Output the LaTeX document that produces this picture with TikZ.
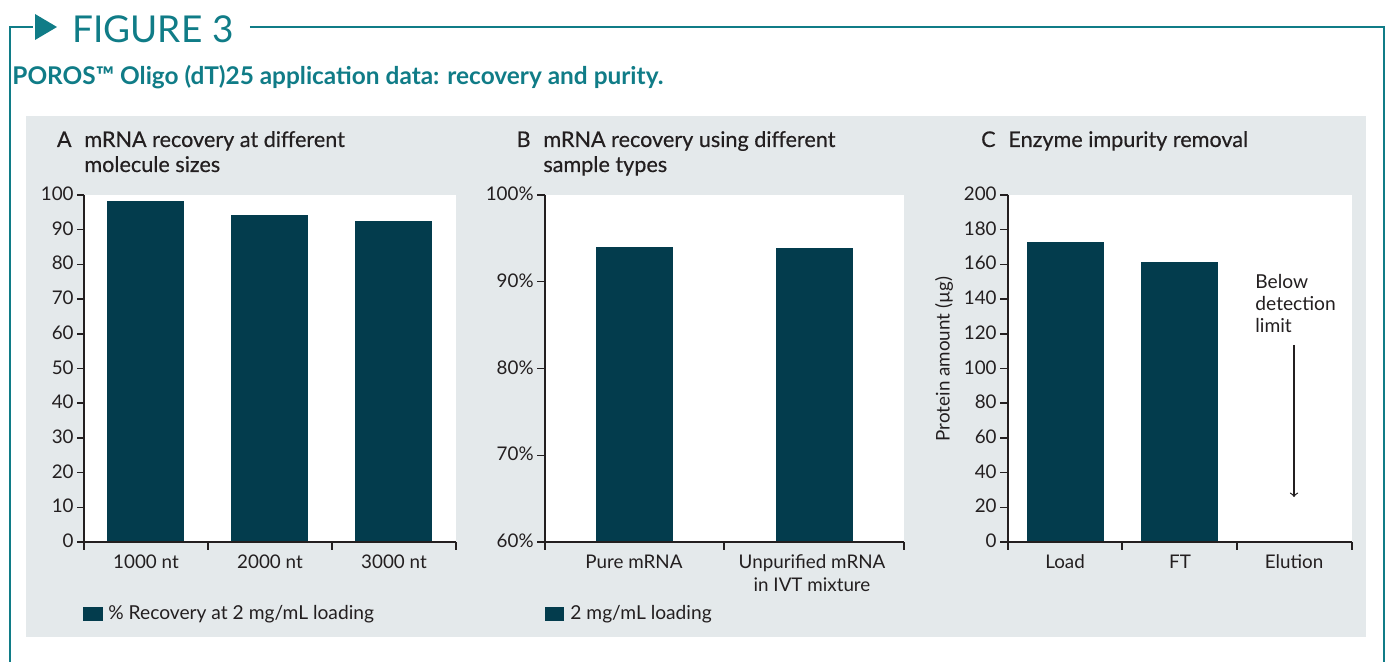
\documentclass[tikz,border=0pt]{standalone}
\usepackage{fontspec}
\setmainfont{Lato}
\newfontfamily\titlefont[FakeBold=0.4]{Lato}
\usetikzlibrary{arrows,positioning}

\definecolor{figteal}{RGB}{16,124,135}
\definecolor{bardark}{RGB}{3,60,77}
\definecolor{panelgray}{RGB}{228,233,235}
\definecolor{txtblack}{RGB}{35,31,32}

\begin{document}
\begin{tikzpicture}[x=0.5pt, y=-0.5pt, >=to]
  \tikzstyle{frame} = [draw=figteal, line width=1.4pt]
  \tikzstyle{axis} = [draw=txtblack, line width=0.75pt]
  \tikzstyle{bar} = [fill=bardark]
  \tikzstyle{lbl} = [font=\fontsize{9.4}{11}\selectfont, inner sep=0pt, text=txtblack]
  \tikzstyle{ttl} = [font=\titlefont\fontsize{10.8}{13}\selectfont, inner sep=0pt, text=txtblack, anchor=base west]
  \tikzstyle{legend} = [lbl, font=\fontsize{9.6}{11}\selectfont, anchor=base west]
  \useasboundingbox (0,0) rectangle (1391,662);

  % heading and frame
  \node [anchor=base west, inner sep=0pt, text=figteal, font=\fontsize{18.5}{20}\selectfont] (fig) at (72,43) {FIGURE 3};
  \node [anchor=base west, inner sep=0pt, text=figteal, font=\bfseries\fontsize{12.2}{14}\selectfont] (sub) at (12,85) {POROS™ Oligo (dT)25 application data: recovery and purity.};
  \draw [frame] (10,662) -- (10,27) -- (33,27);
  \fill [figteal] (35,14) -- (57,27) -- (35,40) -- cycle;
  \draw [frame] ([xshift=8pt]fig.east |- 0,27) -- (1384,27) -- (1384,662);
  \fill [panelgray] (26,116) rectangle (1366,637);

  % A: recovery vs size
  \node [ttl] (titA) at (84,147) {mRNA recovery at different};
  \node [ttl] (titA2) at (84,172) {molecule sizes};
  \node [ttl, anchor=base east] (labA) at ([xshift=-6pt]titA.base west) {A};
  \fill [white] (84,195) rectangle (456,542);
  \foreach \x/\v in {107/98.3, 231/94.2, 355/92.5}
    \fill [bar] (\x,542) rectangle (\x+77,{542-3.47*\v});
  \draw [axis] (84,195) -- (84,542) -- (456,542);
  \foreach \v in {0,10,...,100} {
    \draw [axis] (77,{542-3.47*\v}) -- (84,{542-3.47*\v});
    \node [lbl, anchor=base east] (ya\v) at (74,{547.5-3.47*\v}) {\v};
  }
  \foreach \x in {84,208,332,456}
    \draw [axis] (\x,542) -- (\x,550);
  \node [lbl, anchor=base] (n1000) at (146,568) {1000 nt};
  \node [lbl, anchor=base] (n2000) at (270,568) {2000 nt};
  \node [lbl, anchor=base] (n3000) at (394,568) {3000 nt};
  \fill [bar] (83,607) rectangle (103,621);
  \node [legend] (legA) at (108,619) {\% Recovery at 2 mg/mL loading};

  % B: recovery vs sample type
  \node [ttl] (titB) at (543,147) {mRNA recovery using different};
  \node [ttl] (titB2) at (543,172) {sample types};
  \node [ttl, anchor=base east] (labB) at ([xshift=-6pt]titB.base west) {B};
  \fill [white] (545,195) rectangle (904,542);
  \foreach \x/\v in {596/94.0, 776/93.9}
    \fill [bar] (\x,542) rectangle (\x+77,{542-8.675*(\v-60)});
  \draw [axis] (545,195) -- (545,542) -- (904,542);
  \foreach \k/\p in {0/60,1/70,2/80,3/90,4/100} {
    \draw [axis] (537,{542-86.75*\k}) -- (545,{542-86.75*\k});
    \node [lbl, anchor=base east] (yb\k) at (534,{547.5-86.75*\k}) {\p\%};
  }
  \foreach \x in {545,724,904}
    \draw [axis] (\x,542) -- (\x,550);
  \node [lbl, anchor=base] (pure) at (634,568) {Pure mRNA};
  \node [lbl, anchor=base] (unpur) at (812,568) {Unpurified mRNA};
  \node [lbl, anchor=base] (unpur2) at (812,591) {in IVT mixture};
  \fill [bar] (545,607) rectangle (564,621);
  \node [legend] (legB) at (570,619) {2 mg/mL loading};

  % C: enzyme removal
  \node [ttl] (titC) at (1008,147) {Enzyme impurity removal};
  \node [ttl, anchor=base east] (labC) at ([xshift=-6pt]titC.base west) {C};
  \fill [white] (1008,195) rectangle (1352,542);
  \foreach \x/\v in {1027/172.9, 1141/161.4}
    \fill [bar] (\x,542) rectangle (\x+77,{542-1.735*\v});
  \draw [axis] (1008,195) -- (1008,542) -- (1352,542);
  \foreach \v in {0,20,...,200} {
    \draw [axis] (1000,{542-1.735*\v}) -- (1008,{542-1.735*\v});
    \node [lbl, anchor=base east] (yc\v) at (997,{547.5-1.735*\v}) {\v};
  }
  \foreach \x in {1008,1122,1237,1352}
    \draw [axis] (\x,542) -- (\x,550);
  \node [lbl, rotate=90] (ytitC) at (944,359) {Protein amount (µg)};
  \node [lbl, anchor=base] (load) at (1065,568) {Load};
  \node [lbl, anchor=base] (ft) at (1180,568) {FT};
  \node [lbl, anchor=base] (elu) at (1294,568) {Elution};
  \node [legend] (bel1) at (1255,289) {Below};
  \node [legend] (bel2) at (1255,311) {detection};
  \node [legend] (bel3) at (1255,333) {limit};
  \coordinate (arrtop) at (1294,345);
  \coordinate (arrbot) at (1294,497);
  \draw [->, txtblack, line width=0.6pt] (arrtop) -- (arrbot);
\end{tikzpicture}
\end{document}
